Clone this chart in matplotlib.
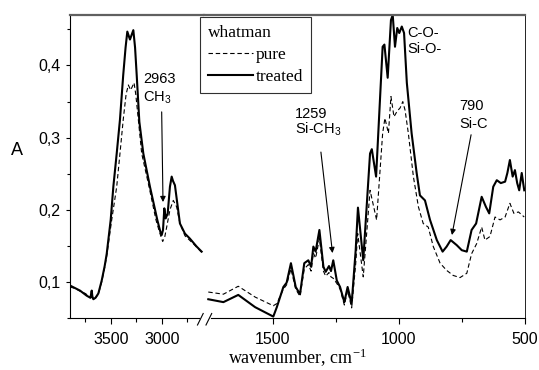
import matplotlib
matplotlib.use("Agg")
import matplotlib.pyplot as plt
from matplotlib.lines import Line2D
from matplotlib.ticker import FixedLocator

plt.rcParams['mathtext.default'] = 'regular'

# --- data (wavenumber cm-1, absorbance) ---
# high wavenumber region (left panel)
wn_treated_hi = [3900, 3802, 3737, 3700, 3687, 3680, 3671, 3650, 3622, 3589, 3560,
                 3540, 3501, 3475, 3442, 3410, 3378, 3355, 3338, 3312, 3279, 3262,
                 3246, 3220, 3181, 3116, 3044, 3015, 3001, 2988, 2975, 2962, 2942,
                 2920, 2903, 2890, 2871, 2848, 2822, 2773, 2724, 2658, 2609]
treated_hi = [0.095, 0.088, 0.081, 0.078, 0.088, 0.079, 0.076, 0.078, 0.084, 0.102, 0.122,
              0.139, 0.186, 0.232, 0.278, 0.325, 0.387, 0.425, 0.447, 0.436, 0.449, 0.425,
              0.387, 0.322, 0.278, 0.232, 0.186, 0.170, 0.165, 0.172, 0.202, 0.188, 0.195,
              0.232, 0.246, 0.240, 0.234, 0.209, 0.181, 0.167, 0.160, 0.149, 0.142]

wn_pure_hi = [3900, 3850, 3800, 3750, 3700, 3685, 3675, 3660, 3622, 3589, 3560,
              3540, 3491, 3442, 3410, 3378, 3350, 3328, 3305, 3272, 3255, 3230,
              3197, 3125, 3057, 3020, 2991, 2970, 2952, 2920, 2887, 2854, 2822,
              2773, 2691, 2609]
pure_hi = [0.093, 0.091, 0.087, 0.084, 0.079, 0.085, 0.077, 0.076, 0.083, 0.100, 0.120,
           0.136, 0.186, 0.232, 0.278, 0.325, 0.360, 0.373, 0.366, 0.376, 0.360, 0.325,
           0.278, 0.232, 0.186, 0.168, 0.156, 0.163, 0.176, 0.200, 0.213, 0.204, 0.181,
           0.164, 0.153, 0.141]

# fingerprint region (right panel)
wn_treated_lo = [1755, 1695, 1636, 1569, 1497, 1483, 1457, 1444, 1427, 1408, 1391,
                 1374, 1358, 1347, 1338, 1329, 1314, 1298, 1289, 1276, 1268, 1259,
                 1245, 1232, 1215, 1202, 1186, 1170, 1161, 1140, 1113, 1106, 1089,
                 1063, 1056, 1043, 1030, 1023, 1014, 1005, 997, 987, 978, 967,
                 948, 928, 915, 895, 875, 848, 825, 809, 793, 769, 749,
                 729, 710, 692, 670, 653, 640, 624, 610, 594, 577, 568,
                 558, 547, 538, 529, 521, 511, 501]
treated_lo = [0.076, 0.072, 0.082, 0.065, 0.052, 0.065, 0.093, 0.099, 0.126, 0.093, 0.083,
              0.126, 0.130, 0.121, 0.149, 0.142, 0.172, 0.121, 0.114, 0.122, 0.115, 0.130,
              0.102, 0.093, 0.072, 0.093, 0.070, 0.144, 0.203, 0.130, 0.278, 0.284, 0.246,
              0.426, 0.429, 0.383, 0.463, 0.470, 0.426, 0.452, 0.445, 0.454, 0.445, 0.376,
              0.306, 0.251, 0.220, 0.213, 0.186, 0.158, 0.142, 0.149, 0.158, 0.151, 0.144,
              0.142, 0.172, 0.181, 0.218, 0.204, 0.195, 0.232, 0.241, 0.237, 0.239, 0.251,
              0.269, 0.246, 0.255, 0.237, 0.227, 0.251, 0.227]

wn_pure_lo = [1755, 1695, 1636, 1569, 1497, 1483, 1457, 1444, 1427, 1408, 1391,
              1374, 1358, 1347, 1338, 1329, 1314, 1298, 1289, 1276, 1268, 1259,
              1245, 1232, 1215, 1202, 1186, 1170, 1162, 1140, 1113, 1087,
              1063, 1054, 1040, 1030, 1018, 1005, 994, 983, 974, 961,
              941, 921, 902, 882, 862, 835, 809, 783, 756, 729,
              710, 690, 670, 657, 637, 617, 597, 577, 558, 542, 524, 501]
pure_lo = [0.086, 0.083, 0.094, 0.079, 0.067, 0.070, 0.090, 0.096, 0.118, 0.090, 0.080,
           0.118, 0.124, 0.115, 0.140, 0.133, 0.160, 0.115, 0.108, 0.113, 0.107, 0.105,
           0.098, 0.090, 0.068, 0.088, 0.064, 0.125, 0.167, 0.107, 0.227, 0.186,
           0.306, 0.327, 0.306, 0.357, 0.329, 0.337, 0.341, 0.350, 0.338, 0.306,
           0.246, 0.204, 0.181, 0.176, 0.149, 0.126, 0.116, 0.109, 0.106, 0.112,
           0.139, 0.153, 0.176, 0.158, 0.163, 0.190, 0.186, 0.190, 0.209, 0.195, 0.197, 0.190]

yticks = [0.1, 0.2, 0.3, 0.4]
ytick_labels = ['0,1', '0,2', '0,3', '0,4']
yminor = [0.05, 0.15, 0.25, 0.35, 0.45]
xticks_hi = [3500, 3000]
xminor_hi = [3750, 3250, 2750]
xticks_lo = [1500, 1000, 500]
xminor_lo = [1250, 750]

W, H = 539, 370
fig = plt.figure(figsize=(W / 100, H / 100), dpi=100)

def px_box(x0, x1, y0, y1):
    return [x0 / W, 1 - y1 / H, (x1 - x0) / W, (y1 - y0) / H]

ax1 = fig.add_axes(px_box(70, 204, 15, 318))
ax2 = fig.add_axes(px_box(204, 524.5, 15, 318))

sans = 'Liberation Sans'
serif = 'Liberation Serif'

for ax in (ax1, ax2):
    ax.set_ylim(0.05, 0.47)
    ax.spines['top'].set_color('#606060')
    ax.spines['top'].set_linewidth(1.6)
    ax.spines['bottom'].set_linewidth(0.8)
    ax.tick_params(axis='x', which='major', direction='out', length=4, width=0.8,
                   pad=6, labelsize=11.5)
    ax.tick_params(axis='x', which='minor', direction='out', length=3, width=0.8)

ax1.set_xlim(3900, 2586)
ax2.set_xlim(1772, 500)

ax1.plot(wn_pure_hi, pure_hi, color='black', lw=0.8, dashes=(4, 2.5))
ax1.plot(wn_treated_hi, treated_hi, color='black', lw=1.5)
l_pure, = ax2.plot(wn_pure_lo, pure_lo, color='black', lw=0.8, dashes=(4, 2.5))
l_treated, = ax2.plot(wn_treated_lo, treated_lo, color='black', lw=1.5)

ax1.set_xticks(xticks_hi)
ax1.xaxis.set_minor_locator(FixedLocator(xminor_hi))
ax2.set_xticks(xticks_lo)
ax2.xaxis.set_minor_locator(FixedLocator(xminor_lo))
for ax in (ax1, ax2):
    for lab in ax.get_xticklabels():
        lab.set_family(sans)

ax1.set_yticks(yticks)
ax1.set_yticklabels(ytick_labels, family=sans, fontsize=11.5)
ax1.yaxis.set_minor_locator(FixedLocator(yminor))
ax1.tick_params(axis='y', which='major', direction='out', length=3, width=0.8, pad=4)
ax1.tick_params(axis='y', which='minor', direction='out', length=2.5, width=0.8)
ax1.spines['left'].set_linewidth(0.8)
ax1.spines['right'].set_visible(False)

ax2.spines['left'].set_visible(False)
ax2.spines['right'].set_linewidth(0.6)
ax2.tick_params(axis='y', which='both', left=False, labelleft=False)

# axis break marks
fig.add_artist(Line2D([200.5 / W, 208.5 / W], [1 - 318 / H] * 2, color='white', lw=2))
for x0 in (197.5, 206):
    fig.add_artist(Line2D([x0 / W, (x0 + 5.7) / W], [1 - 325 / H, 1 - 313.5 / H],
                          color='black', lw=0.8))

fig.text(16.5 / W, 1 - 150 / H, 'A', family=sans, fontsize=13, ha='center', va='center')
fig.text(297 / W, 1 - 358 / H, 'wavenumber, cm$^{-1}$', family=serif, fontsize=13,
         ha='center', va='center')

# annotations
arrow = dict(arrowstyle='-|>', mutation_scale=8, lw=0.8, color='black',
             shrinkA=0, shrinkB=0)
ax1.text(3184, 0.376, '2963', family=sans, fontsize=10.5, ha='left', va='baseline')
ax1.text(3184, 0.3496, 'CH$_3$', family=sans, fontsize=10.5, ha='left', va='baseline')
ax1.annotate('', xy=(2988, 0.2107), xytext=(3001, 0.3357), arrowprops=arrow)

ax2.text(1411, 0.327, '1259', family=sans, fontsize=10.5, ha='left', va='baseline')
ax2.text(1411, 0.305, 'Si-CH$_3$', family=sans, fontsize=10.5, ha='left', va='baseline')
ax2.annotate('', xy=(1262, 0.14), xytext=(1308, 0.28), arrowprops=arrow)

ax2.text(760, 0.3385, '790', family=sans, fontsize=10.5, ha='left', va='baseline')
ax2.text(760, 0.3135, 'Si-C', family=sans, fontsize=10.5, ha='left', va='baseline')
ax2.annotate('', xy=(788, 0.165), xytext=(712, 0.304), arrowprops=arrow)

ax2.text(966, 0.440, 'C-O-', family=sans, fontsize=10.5, ha='left', va='baseline')
ax2.text(966, 0.4171, 'Si-O-', family=sans, fontsize=10.5, ha='left', va='baseline')

leg = fig.legend([l_pure, l_treated], ['pure', 'treated'], title='whatman',
                 loc='upper left', bbox_to_anchor=(200 / W, 1 - 17 / H),
                 prop={'family': serif, 'size': 12.5},
                 title_fontproperties={'family': serif, 'size': 12.5},
                 alignment='left', fancybox=False, edgecolor='#303030', framealpha=1,
                 borderaxespad=0, borderpad=0.45, handlelength=2.6, handletextpad=0.15,
                 labelspacing=0.35)
leg.get_frame().set_linewidth(0.8)

fig.savefig('out.png', dpi=100)
